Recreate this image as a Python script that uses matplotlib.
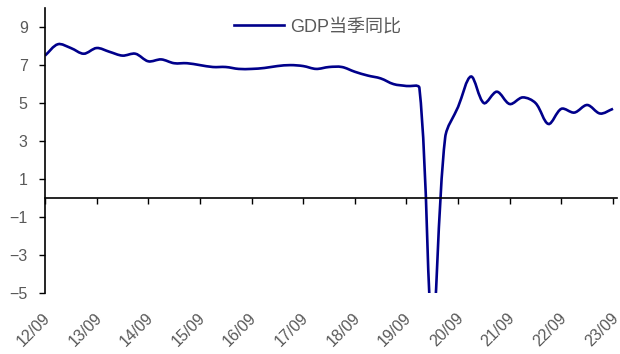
import numpy as np
import matplotlib
matplotlib.use("Agg")
import matplotlib.pyplot as plt
from matplotlib.path import Path
from matplotlib.patches import PathPatch
from matplotlib.transforms import ScaledTranslation

plt.rcParams['font.family'] = ['Liberation Sans', 'Noto Sans CJK SC', 'DejaVu Sans']

# 季度 GDP 同比 (2012Q3 - 2023Q3)
gdp_yoy = [7.5, 8.1, 7.9, 7.6, 7.9, 7.7, 7.5, 7.6, 7.2, 7.3,
           7.1, 7.1, 7.0, 6.9, 6.9, 6.8, 6.8, 6.85, 6.95, 7.0,
           6.95, 6.8, 6.9, 6.9, 6.65, 6.45, 6.3, 6.0, 5.9, 5.8,
           -6.9, 3.2, 4.8, 6.4, 5.0, 5.6, 4.95, 5.3, 5.0, 3.9,
           4.7, 4.5, 4.9, 4.45, 4.7]
tick_labels = ['12/09', '13/09', '14/09', '15/09', '16/09', '17/09',
               '18/09', '19/09', '20/09', '21/09', '22/09', '23/09']
y_ticks = [-5, -3, -1, 1, 3, 5, 7, 9]
series_name = 'GDP当季同比'

line_color = '#00008B'
text_color = '#595959'


def smooth_path(x, y, sy=1.47, t=1 / 3):
    # excel 风格平滑线: 切线方向取相邻两点, 控制点长度按弦长分配
    pts = np.column_stack([x, y]).astype(float)
    scale = np.array([1.0, sy])
    n = len(pts)
    seg = np.linalg.norm(np.diff(pts, axis=0) * scale, axis=1)
    verts = [pts[0]]
    codes = [Path.MOVETO]
    for i in range(n - 1):
        p0 = pts[max(i - 1, 0)]
        p1, p2 = pts[i], pts[i + 1]
        p3 = pts[min(i + 2, n - 1)]
        d_in = seg[i - 1] if i > 0 else 0.0
        d_out = seg[i + 1] if i + 2 < n else 0.0
        c1 = p1 + t * (p2 - p0) * seg[i] / (d_in + seg[i])
        c2 = p2 - t * (p3 - p1) * seg[i] / (seg[i] + d_out)
        verts += [c1, c2, p2]
        codes += [Path.CURVE4] * 3
    return Path(verts, codes)


x = np.arange(len(gdp_yoy))

fig = plt.figure(figsize=(6.2, 3.54), dpi=100)
ax = fig.add_axes([0.0726, 0.1723, 0.9224, 0.8047])

ax.add_patch(PathPatch(smooth_path(x, gdp_yoy), facecolor='none',
                       edgecolor=line_color, lw=1.9))
ax.plot([], [], color=line_color, lw=1.9, label=series_name)

ax.set_xlim(0, len(gdp_yoy) - 1 + 0.3)
ax.set_ylim(-5, 10)
ax.set_yticks(y_ticks)
ax.tick_params(axis='y', direction='out', length=4.5, width=1, pad=8,
               labelsize=11.5, labelcolor=text_color)

ax.spines['top'].set_visible(False)
ax.spines['right'].set_visible(False)
ax.spines['bottom'].set_position(('data', 0))
ax.spines['left'].set_linewidth(1.2)
ax.spines['bottom'].set_linewidth(1.2)

x_ticks = x[::4]
ax.set_xticks(x_ticks)
ax.tick_params(axis='x', direction='out', length=4.5, width=1, labelbottom=False)

sec = ax.secondary_xaxis('bottom')
sec.set_xticks(x_ticks, tick_labels, rotation=45, ha='right', va='center',
               rotation_mode='anchor')
sec.tick_params(length=0, pad=16.5, labelsize=11.5, labelcolor=text_color)
sec.spines['bottom'].set_visible(False)
shift = ScaledTranslation(2 / 72, 0, fig.dpi_scale_trans)
for lab in sec.get_xticklabels():
    lab.set_transform(lab.get_transform() + shift)

leg = ax.legend(loc='center', bbox_to_anchor=(0.476, 0.933), frameon=False,
                fontsize=13, handlelength=2.8, handletextpad=0.3)
for t in leg.get_texts():
    t.set_color(text_color)

fig.savefig('out.png', dpi=100)
